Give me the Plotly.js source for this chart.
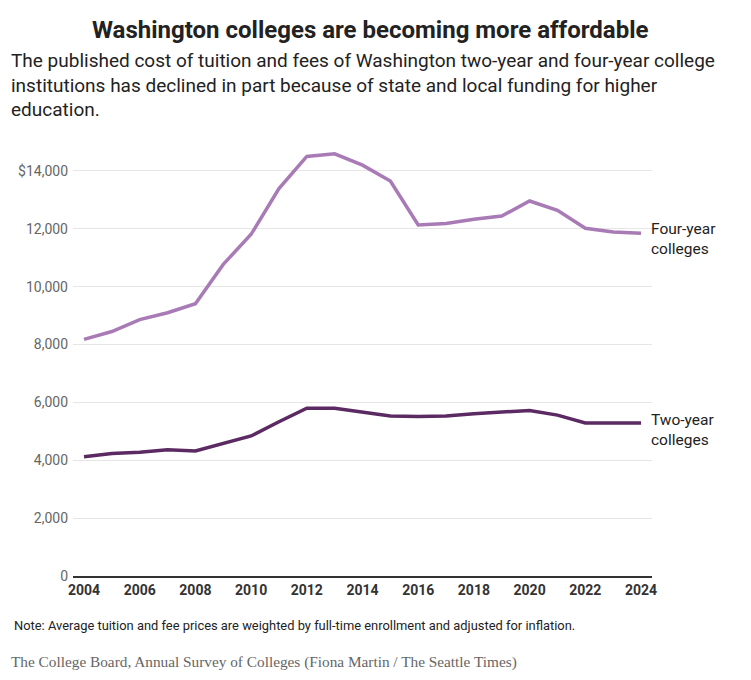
<!DOCTYPE html>
<html>
<head>
<meta charset="utf-8">
<script src="https://cdn.plot.ly/plotly-3.0.1.min.js"></script>
<style>
  html, body { margin: 0; padding: 0; background: #fff; }
  #chart { width: 751px; height: 680px; }
</style>
</head>
<body>
<div id="chart"></div>
<script>
// Published tuition and fees, Washington
var years = [2004, 2005, 2006, 2007, 2008, 2009, 2010, 2011, 2012, 2013, 2014,
             2015, 2016, 2017, 2018, 2019, 2020, 2021, 2022, 2023, 2024];
var fourYear = [8180, 8450, 8860, 9100, 9410, 10770, 11810, 13390, 14500, 14590, 14200,
                13650, 12130, 12180, 12330, 12440, 12960, 12640, 12020, 11890, 11850];
var twoYear = [4120, 4230, 4280, 4360, 4320, 4590, 4840, 5330, 5800, 5800, 5670,
               5530, 5510, 5530, 5610, 5680, 5720, 5560, 5290, 5290, 5290];

var yTickVals = [0, 2000, 4000, 6000, 8000, 10000, 12000, 14000];
var yTickText = ['0', '2,000', '4,000', '6,000', '8,000', '10,000', '12,000', '$14,000'];
var xTickVals = [2004, 2006, 2008, 2010, 2012, 2014, 2016, 2018, 2020, 2022, 2024];

var fourColor = '#a97bb6';
var twoColor = '#5b2a62';

var data = [
    {
        x: years,
        y: fourYear,
        type: 'scatter',
        mode: 'lines',
        line: { color: fourColor, width: 3.5 },
        name: 'Four-year colleges',
        hoverinfo: 'x+y'
    },
    {
        x: years,
        y: twoYear,
        type: 'scatter',
        mode: 'lines',
        line: { color: twoColor, width: 3.5 },
        name: 'Two-year colleges',
        hoverinfo: 'x+y'
    }
];

var sans = 'Roboto, "Noto Sans", sans-serif';

var layout = {
    width: 751,
    height: 680,
    margin: { l: 73, r: 99, t: 142, b: 104 },
    paper_bgcolor: '#fff',
    plot_bgcolor: '#fff',
    showlegend: false,
    font: { family: sans, color: '#222' },
    xaxis: {
        range: [2003.605, 2024.395],
        tickvals: xTickVals,
        ticktext: xTickVals.map(String),
        showgrid: false,
        zeroline: false,
        showline: true,
        linecolor: '#333',
        linewidth: 1.5,
        ticks: '',
        tickfont: { family: sans, size: 14, color: '#333', weight: 'bold' },
        fixedrange: true
    },
    yaxis: {
        range: [0, 15000],
        tickvals: yTickVals,
        ticktext: yTickText,
        showgrid: true,
        gridcolor: '#e6e6e6',
        gridwidth: 1,
        zeroline: false,
        showline: false,
        ticks: '',
        ticklabelstandoff: 4,
        tickfont: { family: sans, size: 14, color: '#666' },
        fixedrange: true
    },
    annotations: [
        {
            text: '<b>Washington colleges are becoming more affordable</b>',
            xref: 'paper', yref: 'paper', x: 0.513, y: 1.258,
            xanchor: 'center', yanchor: 'middle', showarrow: false,
            font: { family: sans, size: 24, color: '#222' }
        },
        {
            text: 'The published cost of tuition and fees of Washington two-year and four-year college<br>' +
                  'institutions has declined in part because of state and local funding for higher<br>' +
                  'education.',
            xref: 'paper', yref: 'paper', x: -0.11, y: 1.22,
            xanchor: 'left', yanchor: 'top', align: 'left', showarrow: false,
            font: { family: sans, size: 19, color: '#222' }
        },
        {
            text: 'Four-year<br>colleges',
            xref: 'paper', yref: 'y', x: 1.0, y: 11640, xshift: -3,
            xanchor: 'left', yanchor: 'middle', align: 'left', showarrow: false,
            font: { family: sans, size: 15.5, color: '#222' }
        },
        {
            text: 'Two-year<br>colleges',
            xref: 'paper', yref: 'y', x: 1.0, y: 5060, xshift: -3,
            xanchor: 'left', yanchor: 'middle', align: 'left', showarrow: false,
            font: { family: sans, size: 15.5, color: '#222' }
        },
        {
            text: 'Note: Average tuition and fee prices are weighted by full-time enrollment and adjusted for inflation.',
            xref: 'paper', yref: 'paper', x: -0.106, y: -0.115,
            xanchor: 'left', yanchor: 'middle', showarrow: false,
            font: { family: sans, size: 12.9, color: '#222' }
        },
        {
            text: 'The College Board, Annual Survey of Colleges (Fiona Martin / The Seattle Times)',
            xref: 'paper', yref: 'paper', x: -0.11, y: -0.198,
            xanchor: 'left', yanchor: 'middle', showarrow: false,
            font: { family: '"Liberation Serif", "DejaVu Serif", serif', size: 15.3, color: '#666' }
        }
    ]
};

var config = {
    displayModeBar: false,
    responsive: false,
    staticPlot: false
};

Plotly.newPlot('chart', data, layout, config);
</script>
</body>
</html>
